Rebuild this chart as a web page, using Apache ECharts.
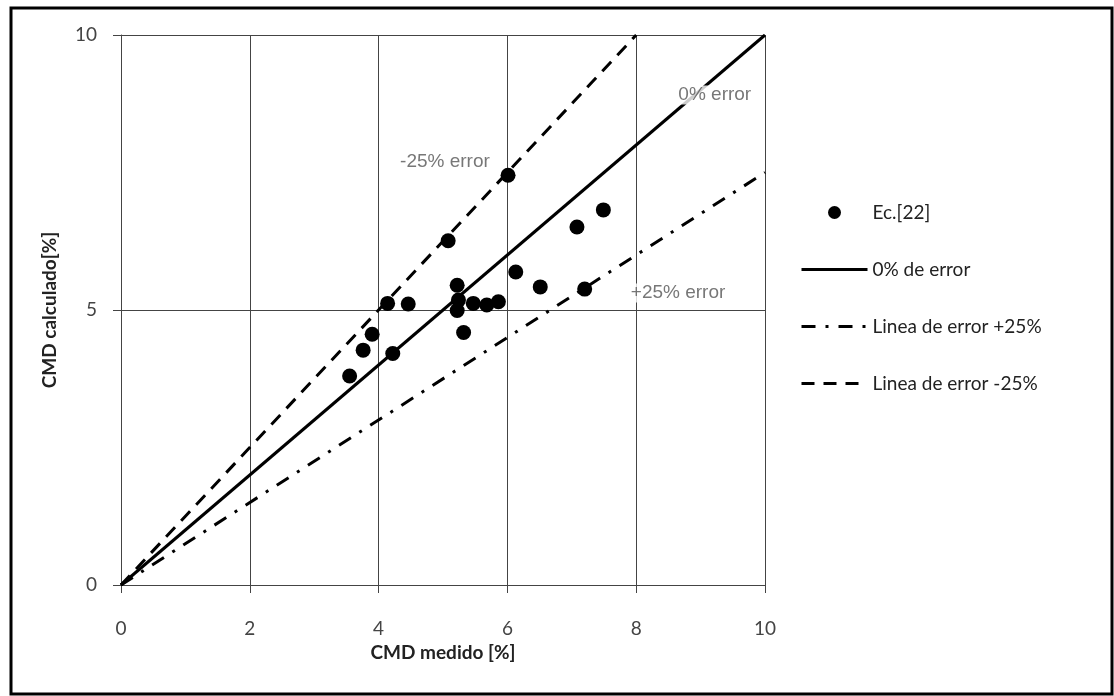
<!DOCTYPE html>
<html>
<head>
<meta charset="utf-8">
<script src="https://cdn.jsdelivr.net/npm/echarts@6/dist/echarts.min.js"></script>
<style>
  html, body { margin: 0; padding: 0; background: #fff; }
  #chart { width: 1114px; height: 696px; }
</style>
</head>
<body>
<div id="chart"></div>
<script>
// puntos medidos vs calculados  [CMD medido, CMD calculado]
const puntosEc22 = [
  [6.01, 7.45], [5.08, 6.26], [7.49, 6.82], [7.08, 6.51],
  [6.13, 5.69], [6.51, 5.42], [7.20, 5.38], [5.22, 5.45],
  [4.14, 5.12], [4.46, 5.11], [5.24, 5.18], [5.22, 4.99],
  [5.47, 5.12], [5.68, 5.09], [5.86, 5.15], [5.32, 4.59],
  [3.90, 4.56], [3.76, 4.27], [4.22, 4.21], [3.55, 3.80]
]
// lineas de referencia
const linea0 = [[0, 0], [10, 10]]
const lineaMas25 = [[0, 0], [10, 7.5]]
const lineaMenos25 = [[0, 0], [8, 10]]
// etiquetas dentro del grafico [x, y, texto]
const etiquetas = [
  [5.03, 7.70, '-25% error'],
  [9.22, 8.91, '0% error'],
  [8.65, 5.31, '+25% error']
]
const xTicks = [0, 2, 4, 6, 8, 10]
const yTicks = [0, 5, 10]

const dom = echarts.init(document.getElementById('chart'))
const fontTxt = 'Lato, "Open Sans", sans-serif'
const sinSimbolo = { color: 'rgba(0,0,0,0)', borderWidth: 0 }

const option = {
  backgroundColor: '#fff',
  animation: false,
  grid: { left: 121, right: 349, top: 35, bottom: 111 },
  legend: {
    orient: 'vertical',
    left: 795,
    top: 198,
    itemWidth: 66,
    itemHeight: 13,
    itemGap: 38,
    lineStyle: { width: 3 },
    textStyle: { fontFamily: fontTxt, fontSize: 19, color: '#222' },
    data: [
      { name: 'Ec.[22]' },
      { name: '0% de error', itemStyle: sinSimbolo },
      { name: 'Linea de error +25%', itemStyle: sinSimbolo },
      { name: 'Linea de error -25%', itemStyle: sinSimbolo }
    ]
  },
  xAxis: {
    type: 'value',
    min: xTicks[0], max: xTicks[xTicks.length - 1], interval: 2,
    name: 'CMD medido [%]',
    nameLocation: 'middle',
    nameGap: 49,
    nameTextStyle: { fontFamily: fontTxt, fontSize: 19, fontWeight: 'bold', color: '#222' },
    axisLine: { show: true, lineStyle: { color: '#444', width: 1 } },
    axisTick: { show: true, length: 8, lineStyle: { color: '#444' } },
    axisLabel: { fontFamily: fontTxt, fontSize: 19, color: '#444', margin: 34 },
    splitLine: { show: true, lineStyle: { color: '#444', width: 1 } }
  },
  yAxis: {
    type: 'value',
    min: yTicks[0], max: yTicks[yTicks.length - 1], interval: 5,
    name: 'CMD calculado[%]',
    nameLocation: 'middle',
    nameGap: 62,
    nameTextStyle: { fontFamily: fontTxt, fontSize: 19, fontWeight: 'bold', color: '#222' },
    axisLine: { show: true, lineStyle: { color: '#444', width: 1 } },
    axisTick: { show: true, length: 8, lineStyle: { color: '#444' } },
    axisLabel: { fontFamily: fontTxt, fontSize: 19, color: '#444', margin: 24 },
    splitLine: { show: true, lineStyle: { color: '#444', width: 1 } }
  },
  series: [
    {
      name: '0% de error',
      type: 'line',
      data: linea0,
      symbol: 'none',
      lineStyle: { color: '#000', width: 3 },
      itemStyle: { color: '#000' },
      z: 3
    },
    {
      name: 'Linea de error +25%',
      type: 'line',
      data: lineaMas25,
      symbol: 'none',
      lineStyle: { color: '#000', width: 3, type: [14, 10, 3, 10] },
      itemStyle: { color: '#000' },
      z: 3
    },
    {
      name: 'Linea de error -25%',
      type: 'line',
      data: lineaMenos25,
      symbol: 'none',
      lineStyle: { color: '#000', width: 3, type: [13, 9] },
      itemStyle: { color: '#000' },
      z: 3
    },
    {
      name: 'Ec.[22]',
      type: 'scatter',
      data: puntosEc22,
      symbol: 'circle',
      symbolSize: 15,
      itemStyle: { color: '#000', opacity: 1 },
      z: 5
    },
    {
      name: 'etiquetas',
      type: 'scatter',
      data: etiquetas.map(e => ({ value: [e[0], e[1]], name: e[2] })),
      symbolSize: 0,
      silent: true,
      label: {
        show: true,
        position: 'inside',
        formatter: p => p.name,
        fontFamily: '"Liberation Sans", Arial, sans-serif',
        fontSize: 19,
        color: '#555',
        backgroundColor: '#fff',
        padding: [0, 2]
      },
      z: 4
    }
  ],
  graphic: [
    {
      type: 'rect',
      shape: { x: 11, y: 8, width: 1101, height: 686 },
      style: { fill: 'none', stroke: '#000', lineWidth: 3 },
      silent: true
    }
  ]
}

dom.setOption(option)
window.addEventListener('resize', () => dom.resize())
</script>
</body>
</html>
